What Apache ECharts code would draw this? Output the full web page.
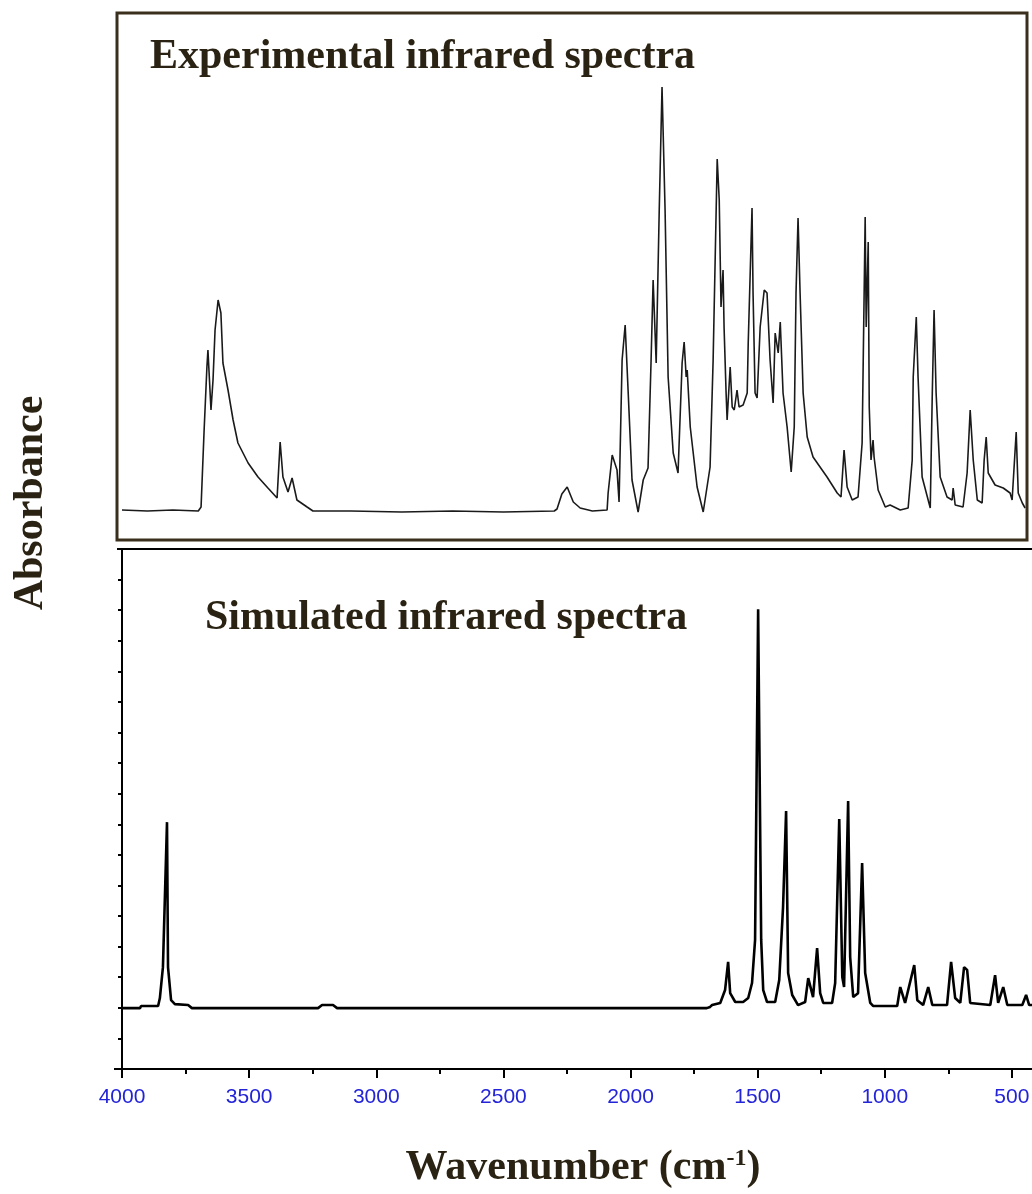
<!DOCTYPE html>
<html><head><meta charset="utf-8">
<script src="https://cdn.jsdelivr.net/npm/echarts@6/dist/echarts.min.js"></script>
<style>html,body{margin:0;padding:0;background:#fff}#c{width:1032px;height:1194px}</style>
</head><body><div id="c"></div>
<script>
// x tick labels (wavenumber, cm-1)
const xTickValues = [4000, 3500, 3000, 2500, 2000, 1500, 1000, 500];

// Experimental spectrum: [wavenumber, absorbance (arbitrary units)]
const experimentalSpectrum = [
[4000,0.02],[3900,0.01],[3800,0.02],[3700,0.01],[3693,0.02],[3689,0.05],[3677,0.82],[3666,1.45],[3662,1.62],[3650,1.02],[3642,1.32],[3634,1.82],[3622,2.12],[3611,1.99],[3603,1.49],[3583,1.22],[3563,0.92],[3544,0.69],[3504,0.49],[3465,0.35],[3426,0.24],[3390,0.14],[3378,0.70],[3367,0.35],[3347,0.20],[3331,0.34],[3312,0.12],[3272,0.05],[3249,0.01],[3100,0.01],[2900,0.0],[2700,0.01],[2500,0.0],[2300,0.01],[2289,0.03],[2270,0.18],[2249,0.25],[2225,0.10],[2198,0.04],[2150,0.01],
[2092,0.02],[2088,0.19],[2072,0.57],[2053,0.42],[2045,0.10],[2033,1.52],[2021,1.87],[2009,1.19],[1994,0.32],[1970,0.0],[1950,0.32],[1931,0.44],[1919,1.52],[1911,2.32],[1899,1.49],[1887,3.02],[1876,4.25],[1864,3.02],[1852,1.35],[1832,0.59],[1813,0.39],[1797,1.49],[1789,1.70],[1781,1.35],[1777,1.42],[1765,0.85],[1738,0.25],[1714,0.0],
[1687,0.45],[1675,1.52],[1659,3.53],[1651,3.12],[1644,2.05],[1636,2.42],[1632,1.85],[1624,1.19],[1620,0.92],[1608,1.45],[1600,1.05],[1592,1.02],[1581,1.22],[1573,1.05],[1557,1.07],[1541,1.19],[1537,1.69],[1522,3.04],[1518,2.19],[1510,1.19],[1502,1.14],[1490,1.85],[1474,2.22],[1463,2.19],[1451,1.52],[1439,1.09],[1431,1.79],[1419,1.59],[1411,1.90],[1400,1.19],[1384,0.85],[1368,0.40],[1356,0.85],[1349,2.19],[1341,2.94],[1333,2.19],[1321,1.19],[1305,0.75],[1282,0.55],[1227,0.35],[1187,0.19],[1172,0.15],[1160,0.62],[1148,0.25],[1128,0.12],[1105,0.15],
[1089,0.69],[1077,2.95],[1073,1.85],[1065,2.70],[1061,1.05],[1054,0.52],[1046,0.72],[1042,0.55],[1026,0.22],[998,0.05],[979,0.07],[939,0.02],[908,0.04],[892,0.52],[888,1.35],[876,1.95],[869,1.35],[853,0.35],[821,0.04],[813,1.19],[806,2.02],[798,1.19],[782,0.35],[755,0.15],[735,0.12],[731,0.24],[723,0.07],[692,0.05],[676,0.39],[664,1.02],[652,0.52],[636,0.12],[617,0.09],[609,0.52],[601,0.75],[593,0.39],[566,0.27],[534,0.24],[507,0.19],[499,0.12],[483,0.80],[475,0.19],[459,0.09],[448,0.04]
];

// Simulated spectrum: [wavenumber, absorbance (axis tick units)]
const simulatedSpectrum = [
[4000,1.99],[3929,1.99],[3925,2.06],[3858,2.06],[3851,2.32],[3839,3.33],[3823,8.07],[3819,3.33],[3807,2.25],[3792,2.12],[3740,2.09],[3725,1.99],[3229,1.99],[3213,2.09],[3170,2.09],[3154,1.99],
[1700,1.99],[1687,2.03],[1679,2.09],[1647,2.16],[1628,2.58],[1616,3.50],[1608,2.48],[1588,2.19],[1557,2.19],[1537,2.32],[1522,2.81],[1510,4.22],[1498,15.03],[1486,4.22],[1478,2.58],[1463,2.19],[1431,2.19],[1415,2.91],[1400,5.29],[1388,8.43],[1380,3.14],[1364,2.42],[1341,2.09],[1313,2.19],[1301,2.97],[1282,2.35],[1266,3.95],[1254,2.48],[1242,2.16],[1207,2.16],[1195,2.81],[1179,8.17],[1167,3.01],[1160,2.68],[1144,8.76],[1136,3.66],[1124,2.35],[1105,2.48],[1089,6.73],[1077,3.14],[1057,2.16],[1046,2.06],
[951,2.06],[939,2.68],[920,2.16],[884,3.40],[872,2.25],[849,2.09],[829,2.68],[813,2.09],[755,2.09],[739,3.50],[723,2.32],[703,2.16],[688,3.33],[676,3.24],[664,2.16],[585,2.09],[566,3.07],[554,2.16],[534,2.68],[518,2.09],[459,2.09],[444,2.42],[432,2.09],[400,2.09]
];

const panelTitles = ['Experimental infrared spectra', 'Simulated infrared spectra'];
const yAxisTitle = 'Absorbance';

const chart = echarts.init(document.getElementById('c'), null, {renderer: 'canvas'});
const serif = '"Liberation Serif", "Times New Roman", serif';
const titleColor = '#2a2212';
const frameColor = '#3a2f1c';

chart.setOption({
  animation: false,
  backgroundColor: '#ffffff',
  grid: [
    {left: 122, width: 1017, top: 15, height: 525, outerBoundsMode: 'none', containLabel: false},
    {left: 122, width: 1017, top: 549, height: 520, outerBoundsMode: 'none', containLabel: false}
  ],
  xAxis: [
    {gridIndex: 0, type: 'value', min: 0, max: 4000, inverse: true, show: false},
    {gridIndex: 1, type: 'value', min: 0, max: 4000, inverse: true, interval: 500,
      axisLine: {show: true, onZero: false, lineStyle: {color: '#000', width: 2}},
      axisTick: {show: true, length: 9, lineStyle: {color: '#000', width: 2}},
      minorTick: {show: true, splitNumber: 2, length: 5, lineStyle: {color: '#000', width: 2}},
      splitLine: {show: false}, minorSplitLine: {show: false},
      axisLabel: {color: '#2323d8', fontSize: 21, fontFamily: '"Liberation Sans", Arial, sans-serif', margin: 18,
        hideOverlap: false, showMinLabel: true, showMaxLabel: true,
        formatter: v => xTickValues.includes(v) ? String(v) : ''}
    }
  ],
  yAxis: [
    {gridIndex: 0, type: 'value', min: -0.28, max: 4.97, show: false},
    {gridIndex: 1, type: 'value', min: 0, max: 17, interval: 1,
      axisLine: {show: true, onZero: false, lineStyle: {color: '#000', width: 2}},
      axisTick: {show: true, length: 4, lineStyle: {color: '#000', width: 2}},
      axisLabel: {show: false}, splitLine: {show: false}}
  ],
  series: [
    {type: 'line', xAxisIndex: 0, yAxisIndex: 0, data: experimentalSpectrum, showSymbol: false,
      lineStyle: {color: '#1a1a1a', width: 1.6}, z: 2},
    {type: 'line', xAxisIndex: 1, yAxisIndex: 1, data: simulatedSpectrum, showSymbol: false,
      lineStyle: {color: '#000', width: 2.6}, z: 2}
  ],
  graphic: [
    {type: 'rect', z: 10, shape: {x: 117, y: 13, width: 910, height: 527},
      style: {fill: 'none', stroke: frameColor, lineWidth: 3}},
    {type: 'line', z: 10, shape: {x1: 117, y1: 549, x2: 1032, y2: 549}, style: {stroke: '#000', lineWidth: 2}},
    {type: 'line', z: 10, shape: {x1: 114, y1: 1069, x2: 122, y2: 1069}, style: {stroke: '#000', lineWidth: 2}},
    {type: 'line', z: 10, shape: {x1: 122, y1: 1069, x2: 122, y2: 1076}, style: {stroke: '#000', lineWidth: 2}},
    {type: 'text', z: 11, x: 150, y: 57, style: {text: panelTitles[0], font: 'bold 42px ' + serif, fill: titleColor,
      align: 'left', verticalAlign: 'middle', textAlign: 'left', textVerticalAlign: 'middle'}},
    {type: 'text', z: 11, x: 205, y: 618, style: {text: panelTitles[1], font: 'bold 42px ' + serif, fill: titleColor,
      align: 'left', verticalAlign: 'middle', textAlign: 'left', textVerticalAlign: 'middle'}},
    {type: 'text', z: 11, x: 31, y: 503, rotation: Math.PI / 2, style: {text: yAxisTitle, font: 'bold 42px ' + serif, fill: titleColor,
      align: 'center', verticalAlign: 'middle', textAlign: 'center', textVerticalAlign: 'middle'}},
    {type: 'text', z: 11, x: 583, y: 1168, style: {text: 'Wavenumber (cm{sup|-1})', font: 'bold 42px ' + serif, fill: titleColor,
      align: 'center', verticalAlign: 'middle', textAlign: 'center', textVerticalAlign: 'middle',
      rich: {sup: {fontSize: 24, fontWeight: 'bold', fontFamily: serif, fill: titleColor, verticalAlign: 'top', padding: [0, 0, 14, 0]}}}}
  ]
});
</script>
</body></html>
